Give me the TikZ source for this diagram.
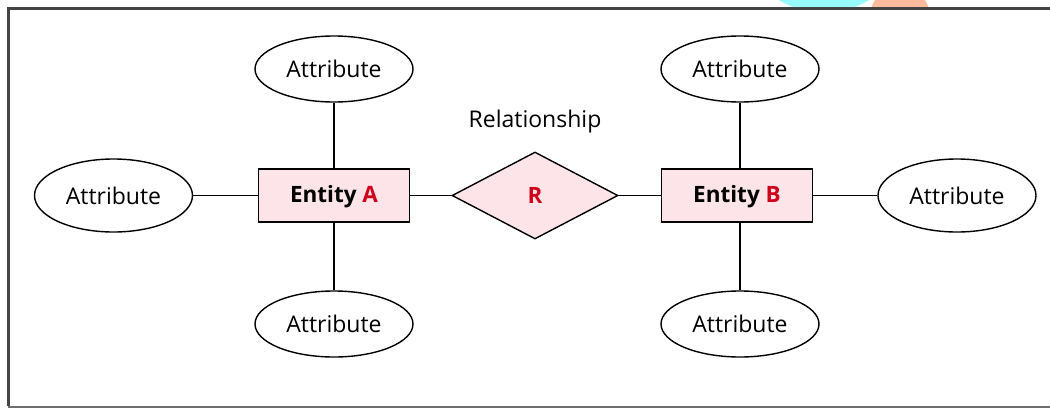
\documentclass[tikz,border=0pt]{standalone}
\usepackage{fontspec}
\setmainfont{Open Sans}
\usetikzlibrary{shapes.geometric}
\definecolor{entfill}{HTML}{FCE4E8}
\definecolor{accred}{HTML}{D0021B}
\definecolor{framegray}{HTML}{444444}
\definecolor{framelight}{HTML}{6E6E6E}
\definecolor{blobcyan}{HTML}{98FBFB}
\definecolor{bloborange}{HTML}{FFBB9C}
\tikzset{
  attr/.style={draw=black, line width=1.4pt, ellipse, minimum width=158pt, minimum height=66pt, inner sep=0pt, font=\fontsize{23}{27}\selectfont},
  attrside/.style={attr, minimum width=158pt, minimum height=73pt},
  entbox/.style={draw=black, line width=1.4pt, fill=entfill, rectangle, minimum width=151pt, minimum height=53pt, inner sep=0pt, text height=17pt, text depth=3pt, font=\fontsize{22.5}{27}\selectfont\bfseries},
  reldia/.style={draw=black, line width=1.4pt, fill=entfill, diamond, minimum width=166pt, minimum height=87pt, inner sep=0pt, font=\fontsize{22.5}{27}\selectfont\bfseries, text=accred},
  conn/.style={draw=black, line width=1.4pt},
  plain/.style={font=\fontsize{23}{27}\selectfont, inner sep=0pt}
}
\begin{document}
\begin{tikzpicture}[x=1pt,y=-1pt]
\useasboundingbox (0,0) rectangle (1050,408);
\fill[white] (0,0) rectangle (1050,408);
% decorative blobs at the top
\begin{scope}
\clip (0,0) rectangle (1050,8);
\fill[blobcyan] (824,-75) circle (87.5);
\fill[bloborange] (900,16) circle (29.7);
\end{scope}
% frame
\draw[framelight, line width=2pt] (8,406.5) -- (1050,406.5);
\draw[framegray, line width=3.5pt] (8.5,406) -- (8.5,8.3) -- (1050,8.3);
% nodes
\node[entbox] (A) at (334,195.5) {Entity \textcolor{accred}{A}};
\node[entbox] (B) at (737,195.5) {Entity \textcolor{accred}{B}};
\node[reldia] (R) at (535,195.5) {R};
\node[plain] (rl) at (535,122) {Relationship};
\node[attr] (atl) at (334,69) {Attribute};
\node[attr] (abl) at (334,324) {Attribute};
\node[attrside] (al) at (113.5,195.5) {Attribute};
\node[attr] (atr) at (740,69) {Attribute};
\node[attr] (abr) at (740,324) {Attribute};
\node[attrside] (ar) at (957,195.5) {Attribute};
% connectors
\draw[conn] (A.west) -- (al.east);
\draw[conn] (A.north) -- (atl.south);
\draw[conn] (A.south) -- (abl.north);
\draw[conn] (A.east) -- (R.west);
\draw[conn] (R.east) -- (B.west);
\draw[conn] (B.east) -- (ar.west);
\draw[conn] (atr.south) -- (atr.south |- B.north);
\draw[conn] (abr.north) -- (abr.north |- B.south);
\end{tikzpicture}
\end{document}
